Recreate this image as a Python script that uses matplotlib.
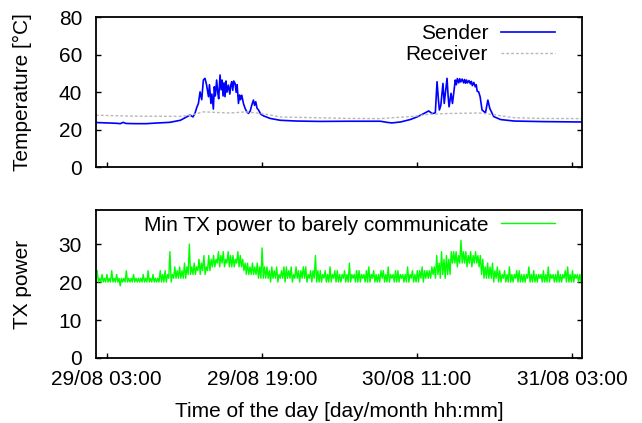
import matplotlib
matplotlib.use("Agg")
import matplotlib.pyplot as plt
import matplotlib.dates as mdates
import numpy as np
import pandas as pd

plt.rcParams["font.family"] = ["Liberation Sans", "DejaVu Sans"]
plt.rcParams["font.size"] = 15

# time axis: hours relative to 29/08 03:00
t0 = pd.Timestamp("2013-08-29 03:00")
x_range_h = (-1.1, 49.0)
tick_labels = ["29/08 03:00", "29/08 19:00", "30/08 11:00", "31/08 03:00"]

sender_h = [-1.1, 0.0, 1.0, 1.4, 1.7, 2.0, 3.0, 4.1, 5.0, 6.5, 7.6, 8.1, 8.6, 8.9, 9.1,
            9.3, 9.46, 9.63, 9.8, 9.97, 10.14, 10.3, 10.38, 10.5, 10.6, 10.75, 10.85, 11.0,
            11.1, 11.2, 11.34, 11.45, 11.55, 11.69, 11.8, 11.9, 12.0, 12.1, 12.2, 12.3, 12.4,
            12.55, 12.7, 12.8, 12.9, 13.0, 13.1, 13.24, 13.35, 13.45, 13.59, 13.7, 13.8,
            13.93, 14.1, 14.27, 14.45, 14.62, 14.8, 14.96, 15.13, 15.25, 15.37, 15.5, 15.65,
            15.9, 16.2, 16.85, 17.9, 19.6, 22.0, 25.0, 28.2, 28.9, 29.4, 30.3, 31.3, 32.0,
            32.7, 33.2, 33.54, 33.88, 34.06, 34.2, 34.3, 34.45, 34.67, 34.8, 35.09, 35.2,
            35.3, 35.5, 35.65, 35.94, 36.05, 36.15, 36.3, 36.4, 36.5, 36.65, 36.8, 36.9,
            37.0, 37.1, 37.2, 37.35, 37.5, 37.6, 37.7, 37.85, 38.0, 38.1, 38.2, 38.35, 38.5,
            38.7, 39.05, 39.3, 39.5, 39.9, 40.6, 42.0, 45.0, 48.8, 49.0]
sender_temp = [23.8, 23.6, 23.4, 23.2, 23.9, 23.3, 23.2, 23.2, 23.5, 23.9, 25.0, 26.4, 27.8,
               26.8, 28.7, 32.0, 34.0, 40.2, 36.0, 46.5, 47.4, 44.0, 41.3, 37.6, 44.0, 34.0,
               39.0, 31.0, 42.9, 38.0, 46.5, 40.0, 36.5, 49.2, 41.3, 46.5, 38.0, 45.0, 37.6,
               46.0, 40.0, 43.8, 39.0, 44.0, 45.6, 41.0, 46.0, 44.7, 40.0, 44.0, 34.0, 38.5,
               36.0, 38.4, 34.0, 31.4, 29.5, 28.7, 30.0, 33.1, 35.8, 33.0, 34.9, 31.5, 30.5,
               28.2, 27.3, 26.0, 25.0, 24.6, 24.4, 24.5, 24.5, 23.9, 23.6, 24.1, 25.4, 26.8,
               28.6, 30.0, 28.6, 28.9, 45.6, 36.0, 30.5, 33.0, 44.7, 34.0, 47.4, 38.0, 32.2,
               39.4, 34.0, 46.5, 44.0, 47.3, 45.0, 47.2, 45.5, 47.0, 45.0, 46.8, 44.8, 46.5,
               45.0, 46.2, 44.5, 45.8, 43.5, 45.2, 42.9, 44.0, 40.5, 40.2, 37.6, 30.5, 29.0,
               35.8, 31.3, 27.0, 25.4, 24.6, 24.3, 24.1, 24.1]

receiver_h = [-1.1, 3.0, 7.6, 8.6, 10.0, 12.7, 14.4, 16.0, 17.9, 21.3, 25.0, 28.2, 31.6,
              33.2, 35.0, 38.4, 39.9, 41.9, 45.0, 49.0]
receiver_temp = [27.7, 27.2, 27.1, 27.7, 29.5, 28.9, 29.5, 28.6, 26.8, 26.4, 26.0, 25.9, 27.1,
                 28.2, 28.6, 28.9, 28.0, 26.4, 26.0, 25.9]

# min TX power: lowest and highest reading in each 15-minute window from 29/08 01:54
tx_start_h = -1.1
tx_step_h = 0.25
tx_min = [20, 20, 20, 20, 20,
          20, 20, 20, 20, 20, 19, 20, 20, 20, 20, 20, 20, 20, 20, 20, 20, 20, 20, 20, 20,
          20, 20, 20, 20, 20, 21, 20, 21, 21,
          21, 21, 21, 21, 22, 22,
          22, 22, 23, 22, 23, 22, 23, 23,
          24, 24, 25, 24, 25, 24, 25, 24, 24, 24, 25, 24, 24, 23,
          22, 22, 22, 22, 22, 21,
          21, 21,
          21, 21, 20, 21, 21, 20, 21, 21, 20, 21, 21, 20, 21, 21, 20, 21, 21, 20, 21,
          20, 21, 20,
          20, 20, 21, 20, 20, 20, 21, 20, 20, 20, 21, 20, 20, 20, 21, 20, 20, 20, 21, 20,
          20, 20, 21, 20, 20, 20, 21, 20, 20, 20, 21, 20, 20, 20, 21, 20, 20, 20, 21, 20,
          20, 20, 21, 20,
          21, 21, 21, 22, 21, 22, 21, 22,
          21, 22, 22, 25, 25, 24, 25, 25,
          25, 24, 25, 24, 25, 25, 24,
          22, 21, 21, 21, 21, 20, 21,
          20, 20, 21, 20, 20, 20, 20, 21, 20, 20, 20, 20, 21, 20, 20, 20, 20, 21, 20, 20,
          20, 20, 21, 20, 20, 20, 20, 21, 20, 20, 20, 20, 21, 20, 20]
tx_max = [23, 21, 22, 21, 22,
          21, 23, 21, 22, 21, 21, 21, 23, 21, 21, 22, 21, 21, 21, 22, 21, 23, 21, 22, 21,
          21, 23, 22, 23, 22, 28, 22, 24, 23,
          24, 23, 25, 24, 30, 24,
          25, 24, 26, 25, 27, 24, 27, 26,
          27, 26, 28, 27, 28, 26, 28, 27, 27, 26, 28, 27, 26, 25,
          25, 24, 25, 24, 25, 24,
          29, 24,
          24, 23, 24, 23, 24, 22, 23, 24, 24, 23, 24, 22, 24, 23, 23, 24, 24, 22, 23,
          23, 27, 23,
          23, 22, 23, 22, 24, 22, 23, 23, 22, 22, 23, 22, 25, 22, 22, 23, 23, 22, 22, 23,
          24, 22, 23, 22, 22, 23, 23, 22, 24, 22, 22, 23, 23, 22, 22, 22, 24, 22, 23, 22,
          23, 23, 24, 23,
          23, 23, 24, 24, 27, 25, 28, 26,
          27, 26, 28, 28, 28, 27, 31, 28,
          28, 27, 28, 27, 28, 27, 27,
          26, 24, 25, 24, 25, 23, 24,
          23, 22, 23, 22, 24, 22, 22, 23, 23, 22, 22, 22, 24, 22, 23, 22, 22, 22, 23, 22,
          24, 22, 22, 22, 23, 22, 22, 23, 24, 22, 23, 22, 22, 22, 24]


def to_time(hours):
    return t0 + pd.to_timedelta(np.asarray(hours, dtype=float), unit="h")


# trace goes low -> high inside every window, like the raw readings do
n_win = min(len(tx_min), len(tx_max))
win_h = tx_start_h + tx_step_h * np.arange(n_win)
tx_h = np.column_stack([win_h, win_h + tx_step_h / 2]).ravel()
tx_val = np.column_stack([tx_min[:n_win], tx_max[:n_win]]).ravel()

tick_pos = pd.to_datetime(["2013/" + s for s in tick_labels], format="%Y/%d/%m %H:%M")

fig = plt.figure(figsize=(6.42, 4.23), dpi=100)
ax1 = fig.add_axes([0.1495, 0.605, 0.757, 0.354])
ax2 = fig.add_axes([0.1495, 0.1537, 0.757, 0.350])

ax1.plot(to_time(sender_h), sender_temp, color="#0000ff", lw=1.2, label="Sender")
ax1.plot(to_time(receiver_h), receiver_temp, color="#b8b8b8", lw=1.0, dashes=(2, 1.5),
         label="Receiver")
ax2.plot(to_time(tx_h), tx_val, color="#00ff00", lw=1.0,
         label="Min TX power to barely communicate")

ax1.set_ylim(0, 80)
ax1.set_yticks([0, 20, 40, 60, 80])
ax2.set_ylim(0, 39)
ax2.set_yticks([0, 10, 20, 30])
ax1.set_ylabel("Temperature [°C]")
ax2.set_ylabel("TX power")
ax2.set_xlabel("Time of the day [day/month hh:mm]", labelpad=9)

for ax in (ax1, ax2):
    ax.set_xlim(to_time(x_range_h[0]), to_time(x_range_h[1]))
    ax.set_xticks(tick_pos)
    ax.xaxis.set_major_formatter(mdates.DateFormatter("%d/%m %H:%M"))
    ax.tick_params(axis="y", direction="in", length=3.5, width=1, pad=10, right=True)
    ax.tick_params(axis="x", direction="in", length=3.5, width=1, pad=9, top=False)
    for sp in ax.spines.values():
        sp.set_linewidth(1.3)
    ax.yaxis.set_label_coords(-0.132, 0.5)
ax1.tick_params(axis="x", labelbottom=False)

ax1.legend(loc="upper right", bbox_to_anchor=(0.944, 0.955), frameon=False,
           markerfirst=False, handlelength=2.6, handletextpad=0.6, borderpad=0,
           borderaxespad=0, labelspacing=0.1)
ax2.legend(loc="upper right", bbox_to_anchor=(0.944, 0.962), frameon=False,
           markerfirst=False, handlelength=2.6, handletextpad=0.6, borderpad=0,
           borderaxespad=0)

fig.savefig("out.png", dpi=100)
